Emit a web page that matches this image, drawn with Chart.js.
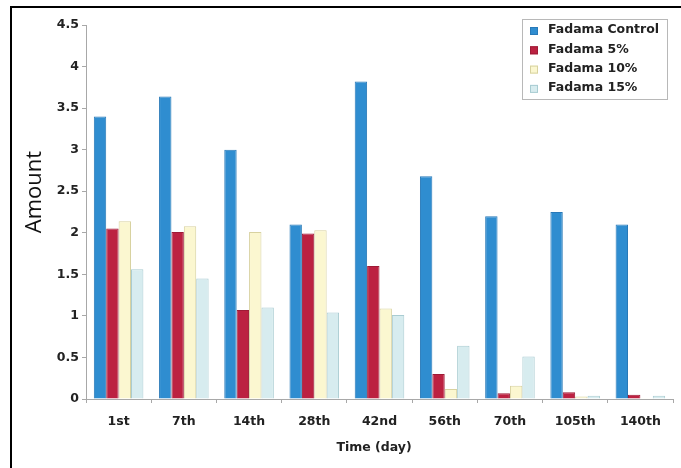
<!DOCTYPE html>
<html>
<head>
<meta charset="utf-8">
<script src="https://cdn.jsdelivr.net/npm/chart.js@4/dist/chart.umd.min.js"></script>
<style>
  html, body { margin: 0; padding: 0; background: #fff; }
  #wrap { width: 681px; height: 468px; position: relative; }
</style>
</head>
<body>
<div id="wrap"><canvas id="c" width="681" height="468"></canvas></div>
<script>
// Sampling days
const categories = ['1st', '7th', '14th', '28th', '42nd', '56th', '70th', '105th', '140th'];

// Measured amounts per treatment
const fadamaControl = [3.40, 3.64, 3.00, 2.10, 3.82, 2.68, 2.20, 2.25, 2.10];
const fadama5 = [2.05, 2.01, 1.07, 1.99, 1.60, 0.30, 0.07, 0.08, 0.05];
const fadama10 = [2.14, 2.08, 2.01, 2.03, 1.09, 0.12, 0.16, 0.03, 0.01];
const fadama15 = [1.56, 1.45, 1.10, 1.04, 1.01, 0.64, 0.51, 0.04, 0.04];

const seriesLabels = ['Fadama Control', 'Fadama 5%', 'Fadama 10%', 'Fadama 15%'];
const yTicks = [0, 0.5, 1, 1.5, 2, 2.5, 3, 3.5, 4, 4.5];

const yTitle = 'Amount';
const xTitle = 'Time (day)';

const fills = ['#2f8dd0', '#bc2141', '#fbf7d0', '#d7ecef'];
const edges = ['#2879b8', '#9e1b36', '#d8d2a0', '#a9ccd2'];

const TICK_FONT = { family: '"DejaVu Sans", sans-serif', size: 12.5, weight: 'bold' };
const TEXT_COLOR = '#222';

// Page frame, axis titles and the boxed legend
const decorations = {
  id: 'decorations',
  beforeDraw(chart) {
    const ctx = chart.ctx;
    ctx.save();
    ctx.fillStyle = '#fff';
    ctx.fillRect(0, 0, chart.width, chart.height);
    ctx.strokeStyle = '#000';
    ctx.lineWidth = 2;
    ctx.beginPath();
    ctx.moveTo(11, chart.height);
    ctx.lineTo(11, 7);
    ctx.lineTo(chart.width, 7);
    ctx.stroke();
    ctx.restore();
  },
  afterDraw(chart) {
    const ctx = chart.ctx;
    ctx.save();
    // y title
    ctx.fillStyle = '#111';
    ctx.font = '22px "Open Sans", sans-serif';
    ctx.textAlign = 'center';
    ctx.textBaseline = 'middle';
    ctx.translate(35, 192);
    ctx.rotate(-Math.PI / 2);
    ctx.fillText(yTitle, 0, 0);
    ctx.restore();

    ctx.save();
    ctx.fillStyle = TEXT_COLOR;
    ctx.font = 'bold 12.5px "DejaVu Sans", sans-serif';
    ctx.textAlign = 'center';
    ctx.textBaseline = 'middle';
    ctx.fillText(xTitle, 374, 448);
    ctx.restore();

    // legend box
    const bx = 522, by = 19, bw = 145, bh = 80;
    ctx.save();
    ctx.fillStyle = '#fff';
    ctx.fillRect(bx, by, bw, bh);
    ctx.strokeStyle = '#b8b8b8';
    ctx.lineWidth = 1;
    ctx.strokeRect(bx + 0.5, by + 0.5, bw, bh);
    ctx.font = 'bold 12.5px "DejaVu Sans", sans-serif';
    ctx.textBaseline = 'middle';
    ctx.textAlign = 'left';
    chart.data.datasets.forEach((ds, i) => {
      const cy = 30 + i * 19.3;
      ctx.fillStyle = ds.backgroundColor;
      ctx.fillRect(530, cy - 3, 8, 8);
      ctx.strokeStyle = ds.borderColor;
      ctx.strokeRect(530.5, cy - 2.5, 7, 7);
      ctx.fillStyle = TEXT_COLOR;
      ctx.fillText(ds.label, 548, cy);
    });
    ctx.restore();
  }
};

const seriesValues = [fadamaControl, fadama5, fadama10, fadama15];

new Chart(document.getElementById('c'), {
  type: 'bar',
  data: {
    labels: categories,
    datasets: seriesValues.map((vals, i) => ({
      label: seriesLabels[i],
      data: vals,
      backgroundColor: fills[i],
      borderColor: edges[i],
      borderWidth: 1,
      categoryPercentage: 0.76,
      barPercentage: 1.0
    }))
  },
  options: {
    responsive: false,
    animation: false,
    devicePixelRatio: 1,
    layout: { padding: { left: 10, top: 25, right: 8, bottom: 8 } },
    plugins: {
      legend: { display: false },
      tooltip: { enabled: false }
    },
    scales: {
      x: {
        offset: true,
        grid: { offset: true, drawOnChartArea: false, drawTicks: true, tickLength: 4, color: '#a8a8a8' },
        border: { color: '#a8a8a8', width: 1 },
        ticks: { font: TICK_FONT, color: TEXT_COLOR, padding: 11, maxRotation: 0 },
        afterFit(scale) { scale.height = 61; }
      },
      y: {
        min: 0,
        max: 4.5,
        afterBuildTicks(scale) { scale.ticks = yTicks.map(v => ({ value: v })); },
        grid: { drawOnChartArea: false, drawTicks: true, tickLength: 4, color: '#a8a8a8' },
        border: { color: '#a8a8a8', width: 1 },
        ticks: { font: TICK_FONT, color: TEXT_COLOR, padding: 3, callback: v => String(v) },
        afterFit(scale) { scale.width = 76; }
      }
    }
  },
  plugins: [decorations]
});
</script>
</body>
</html>
